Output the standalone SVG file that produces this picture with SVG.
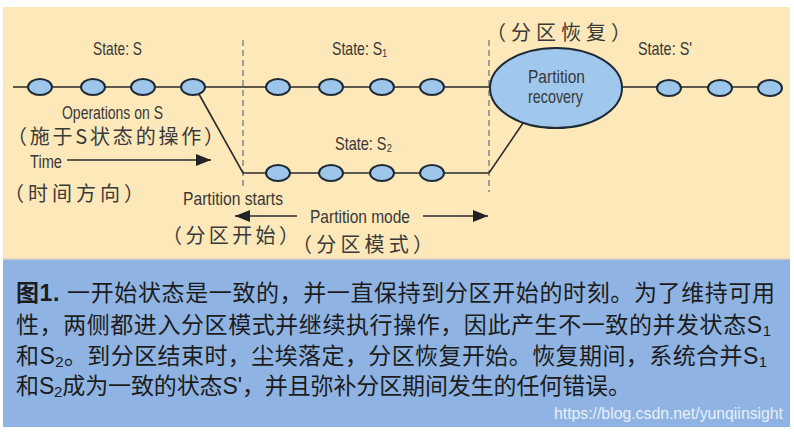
<svg xmlns="http://www.w3.org/2000/svg" width="794" height="434" viewBox="0 0 794 434">
<defs>
<style>
.lbl{font-family:"Liberation Sans","DejaVu Sans",Arial,sans-serif;font-size:18.5px;fill:#383838;}
.cjk{font-family:"Noto Sans CJK SC",sans-serif;font-size:20px;fill:#3a3a3a;}
.cap{font-family:"Liberation Sans","Noto Sans CJK SC",sans-serif;font-size:23px;fill:#1c1c1c;}
.node{fill:#9dc6ea;stroke:#1e2a36;stroke-width:2;}
.ln{stroke:#2a2a2a;stroke-width:1.6;fill:none;}
.dash{stroke:#8c8c8c;stroke-width:1.6;stroke-dasharray:6 4;fill:none;}
</style>
<marker id="ah" markerUnits="userSpaceOnUse" markerWidth="16" markerHeight="12" refX="15" refY="6" orient="auto">
<path d="M0,0 L15,6 L0,12 z" fill="#222"/>
</marker>
</defs>
<rect x="0" y="0" width="794" height="434" fill="#ffffff"/>
<rect x="3" y="7" width="787" height="252" fill="#fde8b9"/>
<rect x="3" y="259" width="787" height="168" fill="#8fb4e3"/>
<line x1="3" y1="259" x2="790" y2="259" stroke="#d9d3c4" stroke-width="1.5"/>

<g id="dividers">
<line class="dash" x1="243" y1="40" x2="243" y2="190"/>
<line class="dash" x1="489" y1="40" x2="489" y2="192"/>
</g>

<g id="connectors">
<line class="ln" x1="13" y1="87" x2="492" y2="87"/>
<line class="ln" x1="620" y1="87" x2="770" y2="87"/>
<polyline class="ln" points="195,87 243,173 489,173 523,123"/>
<line class="ln" x1="67" y1="160" x2="211" y2="160" marker-end="url(#ah)"/>
<line class="ln" x1="297" y1="216" x2="235" y2="216" marker-end="url(#ah)"/>
<line class="ln" x1="423" y1="216" x2="488" y2="216" marker-end="url(#ah)"/>
</g>

<g id="state-s">
<ellipse class="node" cx="40" cy="87" rx="12" ry="8"/>
<ellipse class="node" cx="93" cy="87" rx="12" ry="8"/>
<ellipse class="node" cx="143" cy="87" rx="12" ry="8"/>
<ellipse class="node" cx="193" cy="87" rx="12" ry="8"/>
</g>
<g id="state-s1">
<ellipse class="node" cx="278" cy="87" rx="12" ry="8"/>
<ellipse class="node" cx="331" cy="87" rx="12" ry="8"/>
<ellipse class="node" cx="382" cy="87" rx="12" ry="8"/>
<ellipse class="node" cx="432" cy="87" rx="12" ry="8"/>
</g>
<g id="state-s2">
<ellipse class="node" cx="278" cy="173" rx="12" ry="8"/>
<ellipse class="node" cx="331" cy="173" rx="12" ry="8"/>
<ellipse class="node" cx="382" cy="173" rx="12" ry="8"/>
<ellipse class="node" cx="432" cy="173" rx="12" ry="8"/>
</g>
<g id="recovery">
<ellipse cx="556" cy="88" rx="66" ry="40" fill="#a0c8ec" stroke="#1e2a36" stroke-width="2"/>
<text class="lbl" x="528" y="83" textLength="57" lengthAdjust="spacingAndGlyphs">Partition</text>
<text class="lbl" x="528" y="103" textLength="55" lengthAdjust="spacingAndGlyphs">recovery</text>
</g>
<g id="state-s-prime">
<ellipse class="node" cx="669" cy="88" rx="12" ry="8"/>
<ellipse class="node" cx="720" cy="88" rx="12" ry="8"/>
<ellipse class="node" cx="770" cy="88" rx="12" ry="8"/>
</g>

<g id="labels">
<text class="lbl" x="93" y="55" textLength="49" lengthAdjust="spacingAndGlyphs">State: S</text>
<text class="lbl" x="332" y="55" textLength="55" lengthAdjust="spacingAndGlyphs">State: S₁</text>
<text class="lbl" x="335" y="150" textLength="57" lengthAdjust="spacingAndGlyphs">State: S₂</text>
<text class="lbl" x="638" y="55" textLength="54" lengthAdjust="spacingAndGlyphs">State: S'</text>
<text class="cjk" x="486" y="40" textLength="145" lengthAdjust="spacing">（分区恢复）</text>
<text class="lbl" x="62" y="119" textLength="101" lengthAdjust="spacingAndGlyphs">Operations on S</text>
<text class="cjk" x="7" y="144" textLength="217" lengthAdjust="spacing">（施于S状态的操作）</text>
<text class="lbl" x="30" y="168" textLength="32" lengthAdjust="spacingAndGlyphs">Time</text>
<text class="cjk" x="4" y="201" textLength="140" lengthAdjust="spacing">（时间方向）</text>
<text class="lbl" x="183" y="205" textLength="100" lengthAdjust="spacingAndGlyphs">Partition starts</text>
<text class="lbl" x="310" y="223" textLength="100" lengthAdjust="spacingAndGlyphs">Partition mode</text>
<text class="cjk" x="162" y="243" textLength="137" lengthAdjust="spacing">（分区开始）</text>
<text class="cjk" x="292" y="252" textLength="141" lengthAdjust="spacing">（分区模式）</text>
</g>

<g id="caption">
<text class="cap" x="16" y="301" textLength="759" lengthAdjust="spacing"><tspan font-weight="bold">图1.</tspan> 一开始状态是一致的，并一直保持到分区开始的时刻。为了维持可用</text>
<text class="cap" x="16" y="333" textLength="755" lengthAdjust="spacing">性，两侧都进入分区模式并继续执行操作，因此产生不一致的并发状态S<tspan font-size="15" dy="3">1</tspan></text>
<text class="cap" x="16" y="364" textLength="751" lengthAdjust="spacing">和S<tspan font-size="15" dy="3">2</tspan><tspan dy="-3">。到分区结束时，尘埃落定，分区恢复开始。恢复期间，系统合并S</tspan><tspan font-size="15" dy="3">1</tspan></text>
<text class="cap" x="16" y="394" textLength="615" lengthAdjust="spacing">和S<tspan font-size="15" dy="3">2</tspan><tspan dy="-3">成为一致的状态S'，并且弥补分区期间发生的任何错误。</tspan></text>
<text x="554" y="419" font-family="Liberation Sans, Arial, sans-serif" font-size="16" fill="#e9eff8" textLength="229" lengthAdjust="spacingAndGlyphs">https://blog.csdn.net/yunqiinsight</text>
</g>
</svg>
